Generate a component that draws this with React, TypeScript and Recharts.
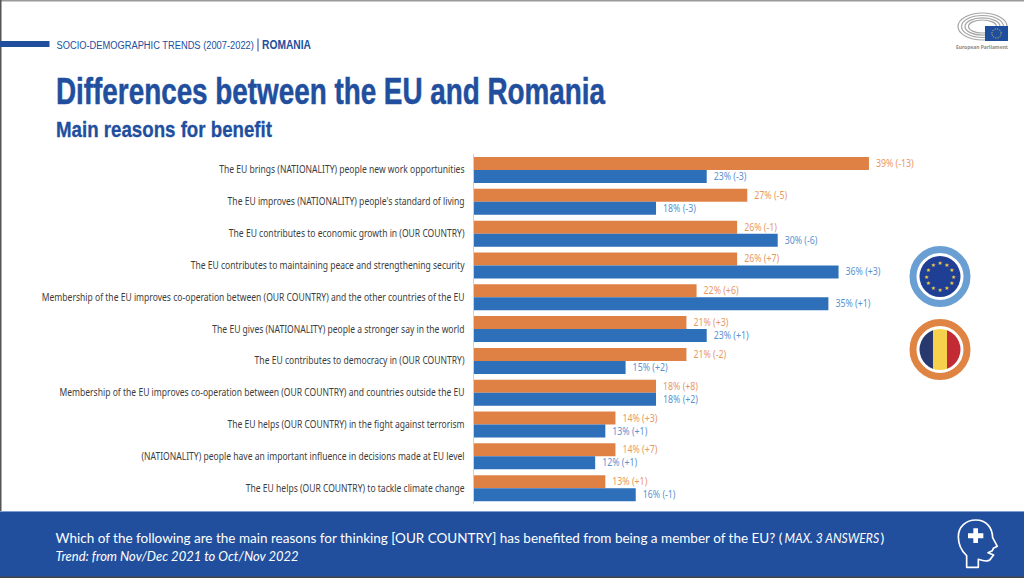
import { BarChart, Bar, XAxis, YAxis, LabelList } from "recharts";

const categories = [
  "The EU brings (NATIONALITY) people new work opportunities",
  "The EU improves (NATIONALITY) people's standard of living",
  "The EU contributes to economic growth in (OUR COUNTRY)",
  "The EU contributes to maintaining peace and strengthening security",
  "Membership of the EU improves co-operation between (OUR COUNTRY) and the other countries of the EU",
  "The EU gives (NATIONALITY) people a stronger say in the world",
  "The EU contributes to democracy in (OUR COUNTRY)",
  "Membership of the EU improves co-operation between (OUR COUNTRY) and countries outside the EU",
  "The EU helps (OUR COUNTRY) in the fight against terrorism",
  "(NATIONALITY) people have an important influence in decisions made at EU level",
  "The EU helps (OUR COUNTRY) to tackle climate change",
];
const romania = [39, 27, 26, 26, 22, 21, 21, 18, 14, 14, 13];
const eu = [23, 18, 30, 36, 35, 23, 15, 18, 13, 12, 16];
const romaniaTrend = ["-13", "-5", "-1", "+7", "+6", "+3", "-2", "+8", "+3", "+7", "+1"];
const euTrend = ["-3", "-3", "-6", "+3", "+1", "+1", "+2", "+2", "+1", "+1", "-1"];

const data = categories.map((name, i) => ({ name, romania: romania[i], eu: eu[i] }));

const NAVY = "#214f9e";
const FONT = "'Noto Sans', sans-serif";
const NARROW = "'Liberation Sans Narrow', sans-serif";
const LATO = "Lato, sans-serif";

function CategoryTick({ x, y, payload }: any) {
  return (
    <g transform={`translate(${x},${y}) scale(0.855,1)`}>
      <text textAnchor="end" dy={3.5} fontSize={10} fontFamily={FONT} fill="#3c3c3c">
        {payload.value}
      </text>
    </g>
  );
}

function valueLabel(values: number[], trend: string[], color: string) {
  return ({ x, y, width, height, index }: any) => (
    <g transform={`translate(${x + width + 7},${y + height / 2}) scale(0.88,1)`}>
      <text dy={3.5} fontSize={10} fontFamily={FONT} fill={color}>
        {`${values[index]}% (${trend[index]})`}
      </text>
    </g>
  );
}

function Stars() {
  const angles = [0, 30, 60, 90, 120, 150, 180, 210, 240, 270, 300, 330];
  return (
    <>
      {angles.map((a) => (
        <text
          key={a}
          x={940 + 13.5 * Math.cos((a * Math.PI) / 180)}
          y={276.5 + 13.5 * Math.sin((a * Math.PI) / 180) + 2}
          textAnchor="middle"
          fontSize={5.5}
          fontFamily="'DejaVu Sans'"
          fill="#f5d33c"
        >
          ★
        </text>
      ))}
    </>
  );
}

function Decorations() {
  return (
    <svg width={1024} height={578} style={{ position: "absolute", left: 0, top: 0 }}>
      <rect x={0} y={0} width={1024} height={1.5} fill="#9a9a9a" />
      <rect x={0} y={0} width={1.5} height={578} fill="#555" />
      <rect x={0} y={41} width={49.5} height={6} fill={NAVY} />
      <text transform="translate(56.5,49) scale(0.81,1)" fontSize={11.5} fontFamily={NARROW} fill={NAVY}>
        SOCIO-DEMOGRAPHIC TRENDS (2007-2022)
      </text>
      <rect x={257.5} y={38.5} width={1} height={13} fill={NAVY} />
      <text x={262} y={49} fontSize={12} fontWeight={700} fontFamily={NARROW} fill={NAVY} textLength={49} lengthAdjust="spacingAndGlyphs">
        ROMANIA
      </text>
      <text x={56} y={104} fontSize={36} fontWeight={700} fontFamily={NARROW} fill={NAVY} stroke={NAVY} strokeWidth={0.5} textLength={549} lengthAdjust="spacingAndGlyphs">
        Differences between the EU and Romania
      </text>
      <text x={56} y={136.5} fontSize={22} fontWeight={700} fontFamily={NARROW} fill={NAVY} stroke={NAVY} strokeWidth={0.3} textLength={216} lengthAdjust="spacingAndGlyphs">
        Main reasons for benefit
      </text>

      {/* parliament logo */}
      <g fill="none" stroke="#a6a6a6" strokeWidth={1.2}>
        <ellipse cx={982.5} cy={26.5} rx={24.5} ry={13.5} />
        <ellipse cx={982.5} cy={26.5} rx={21} ry={11} />
        <ellipse cx={982.5} cy={26.5} rx={17.5} ry={8.7} />
        <ellipse cx={982.5} cy={26.5} rx={14} ry={6.5} />
      </g>
      <rect x={985} y={26} width={23} height={15} fill="#1f4e9e" />
      <circle cx={996.5} cy={33.5} r={4.6} fill="none" stroke="#f5d33c" strokeWidth={1} strokeDasharray="1 1.4" />
      <text x={956} y={49} fontSize={6} fontWeight={700} fontFamily={FONT} fill="#8a8a8a" textLength={52} lengthAdjust="spacingAndGlyphs">
        European Parliament
      </text>

      {/* legend badges */}
      <circle cx={940} cy={276.5} r={27} fill="none" stroke="#6a9fd3" strokeWidth={7} />
      <circle cx={940} cy={276.5} r={20.5} fill="#1f3f94" />
      <Stars />
      <circle cx={940} cy={349.5} r={27} fill="none" stroke="#e08443" strokeWidth={7} />
      <clipPath id="ro">
        <circle cx={940} cy={349.5} r={20.5} />
      </clipPath>
      <g clipPath="url(#ro)">
        <rect x={919} y={329} width={14} height={41} fill="#27396f" />
        <rect x={933} y={329} width={14} height={41} fill="#f6d24c" />
        <rect x={947} y={329} width={14} height={41} fill="#c22b33" />
      </g>

      {/* footer */}
      <rect x={0} y={511} width={1024} height={1.5} fill="#7f9fd0" />
      <rect x={0} y={512} width={1024} height={65} fill={NAVY} />
      <rect x={0} y={576.5} width={1024} height={1.5} fill="#444" />
      <text transform="translate(55.5,543) scale(0.965,1)" fontSize={14} fontFamily={LATO} fill="#ffffff">
        Which of the following are the main reasons for thinking [OUR COUNTRY] has benefited from being a member of the EU? (
      </text>
      <text transform="translate(784.5,543) scale(0.9,1)" fontSize={13.5} fontStyle="italic" fontFamily={LATO} fill="#ffffff">
        MAX. 3 ANSWERS
      </text>
      <text x={880.5} y={543} fontSize={14} fontFamily={LATO} fill="#ffffff">
        )
      </text>
      <text x={55.5} y={561} fontSize={14} fontStyle="italic" fontFamily={LATO} fill="#ffffff" textLength={243} lengthAdjust="spacingAndGlyphs">
        Trend: from Nov/Dec 2021 to Oct/Nov 2022
      </text>
      <g transform="translate(940,505) scale(0.3333)" fill="none" stroke="#ffffff" strokeWidth={5} strokeLinejoin="round">
        <path d="M80 187 V152 C62 135 55 115 55 95 C55 65 78 45 107 45 C140 45 157 68 158 98 L172 124 L160 130 L157 137 L144 143 L161 150 L153 160 C150 170 135 170 115 163 V187 Z" />
        <path d="M100 70 H114 V85 H130 V100 H114 V114 H100 V100 H84 V85 H100 Z" fill="#ffffff" stroke="none" />
      </g>
    </svg>
  );
}

export default function App() {
  return (
    <div style={{ position: "absolute", left: 0, top: 0, width: 1024, height: 578, background: "#fff", overflow: "hidden" }}>
      <Decorations />
      <div style={{ position: "absolute", left: 0, top: 0 }}>
        <BarChart
          width={1024}
          height={578}
          layout="vertical"
          data={data}
          margin={{ top: 154, right: 43.5, bottom: 74, left: 0 }}
          barCategoryGap={3}
          barGap={0}
        >
          <XAxis type="number" domain={[0, 50]} hide />
          <YAxis
            type="category"
            dataKey="name"
            width={473.5}
            interval={0}
            tick={<CategoryTick />}
            tickLine={false}
            tickMargin={3}
            axisLine={{ stroke: "#cfcfcf", strokeWidth: 1 }}
          />
          <Bar dataKey="romania" fill="#df8145" isAnimationActive={false}>
            <LabelList dataKey="romania" content={valueLabel(romania, romaniaTrend, "#e8975f")} />
          </Bar>
          <Bar dataKey="eu" fill="#2d6fb8" isAnimationActive={false}>
            <LabelList dataKey="eu" content={valueLabel(eu, euTrend, "#5a92cf")} />
          </Bar>
        </BarChart>
      </div>
    </div>
  );
}
